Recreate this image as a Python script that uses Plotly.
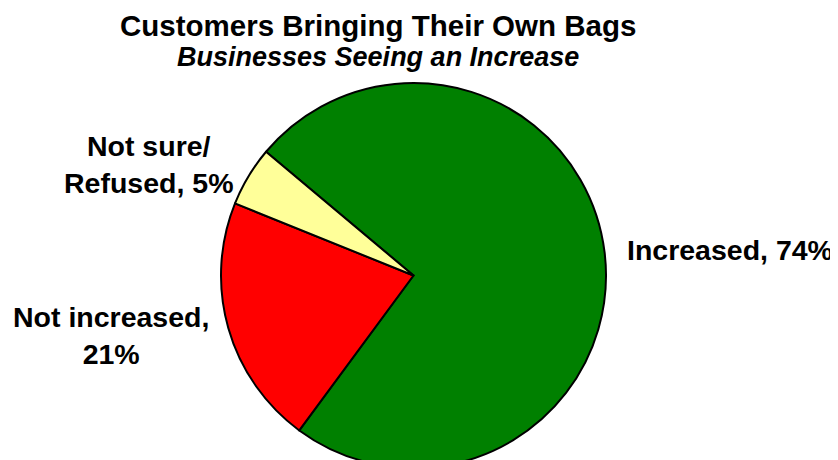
import plotly.graph_objects as go

labels = ["Increased", "Not increased", "Not sure/<br>Refused"]
display_labels = ["Increased, 74%", "Not increased,<br>21%", "Not sure/<br>Refused, 5%"]
values = [74, 21, 5]
colors = ["#008000", "#FF0000", "#FFFF99"]

title = "Customers Bringing Their Own Bags"
subtitle = "Businesses Seeing an Increase"

W, H = 838, 460
fig = go.Figure()
fig.add_trace(go.Pie(
    labels=labels, values=values, sort=False, direction="clockwise",
    rotation=-50, textinfo="none", hoverinfo="label+percent",
    marker=dict(colors=colors, line=dict(color="black", width=2)),
    domain=dict(x=[213 / W, 598 / W], y=[0, 385 / H]),
    showlegend=False,
))

font = "Liberation Sans, Arial, sans-serif"
label_pos = [(722, 242), (103, 327), (140, 156)]
for txt, (px, py) in zip(display_labels, label_pos):
    fig.add_annotation(x=px / W, y=1 - py / H, xref="paper", yref="paper",
                       text=f"<b>{txt}</b>", showarrow=False,
                       font=dict(family=font, size=28.5, color="black"),
                       align="center", xanchor="center", yanchor="middle")

fig.add_annotation(x=370 / W, y=1 - 17 / H, xref="paper", yref="paper",
                   text=f"<b>{title}</b>", showarrow=False,
                   font=dict(family=font, size=29.5, color="black"),
                   xanchor="center", yanchor="middle")
fig.add_annotation(x=370 / W, y=1 - 49 / H, xref="paper", yref="paper",
                   text=f"<b><i>{subtitle}</i></b>", showarrow=False,
                   font=dict(family=font, size=27, color="black"),
                   xanchor="center", yanchor="middle")

fig.update_layout(width=W, height=H, margin=dict(l=0, r=0, t=0, b=0),
                  paper_bgcolor="white", plot_bgcolor="white")
fig.write_html("out.html")
